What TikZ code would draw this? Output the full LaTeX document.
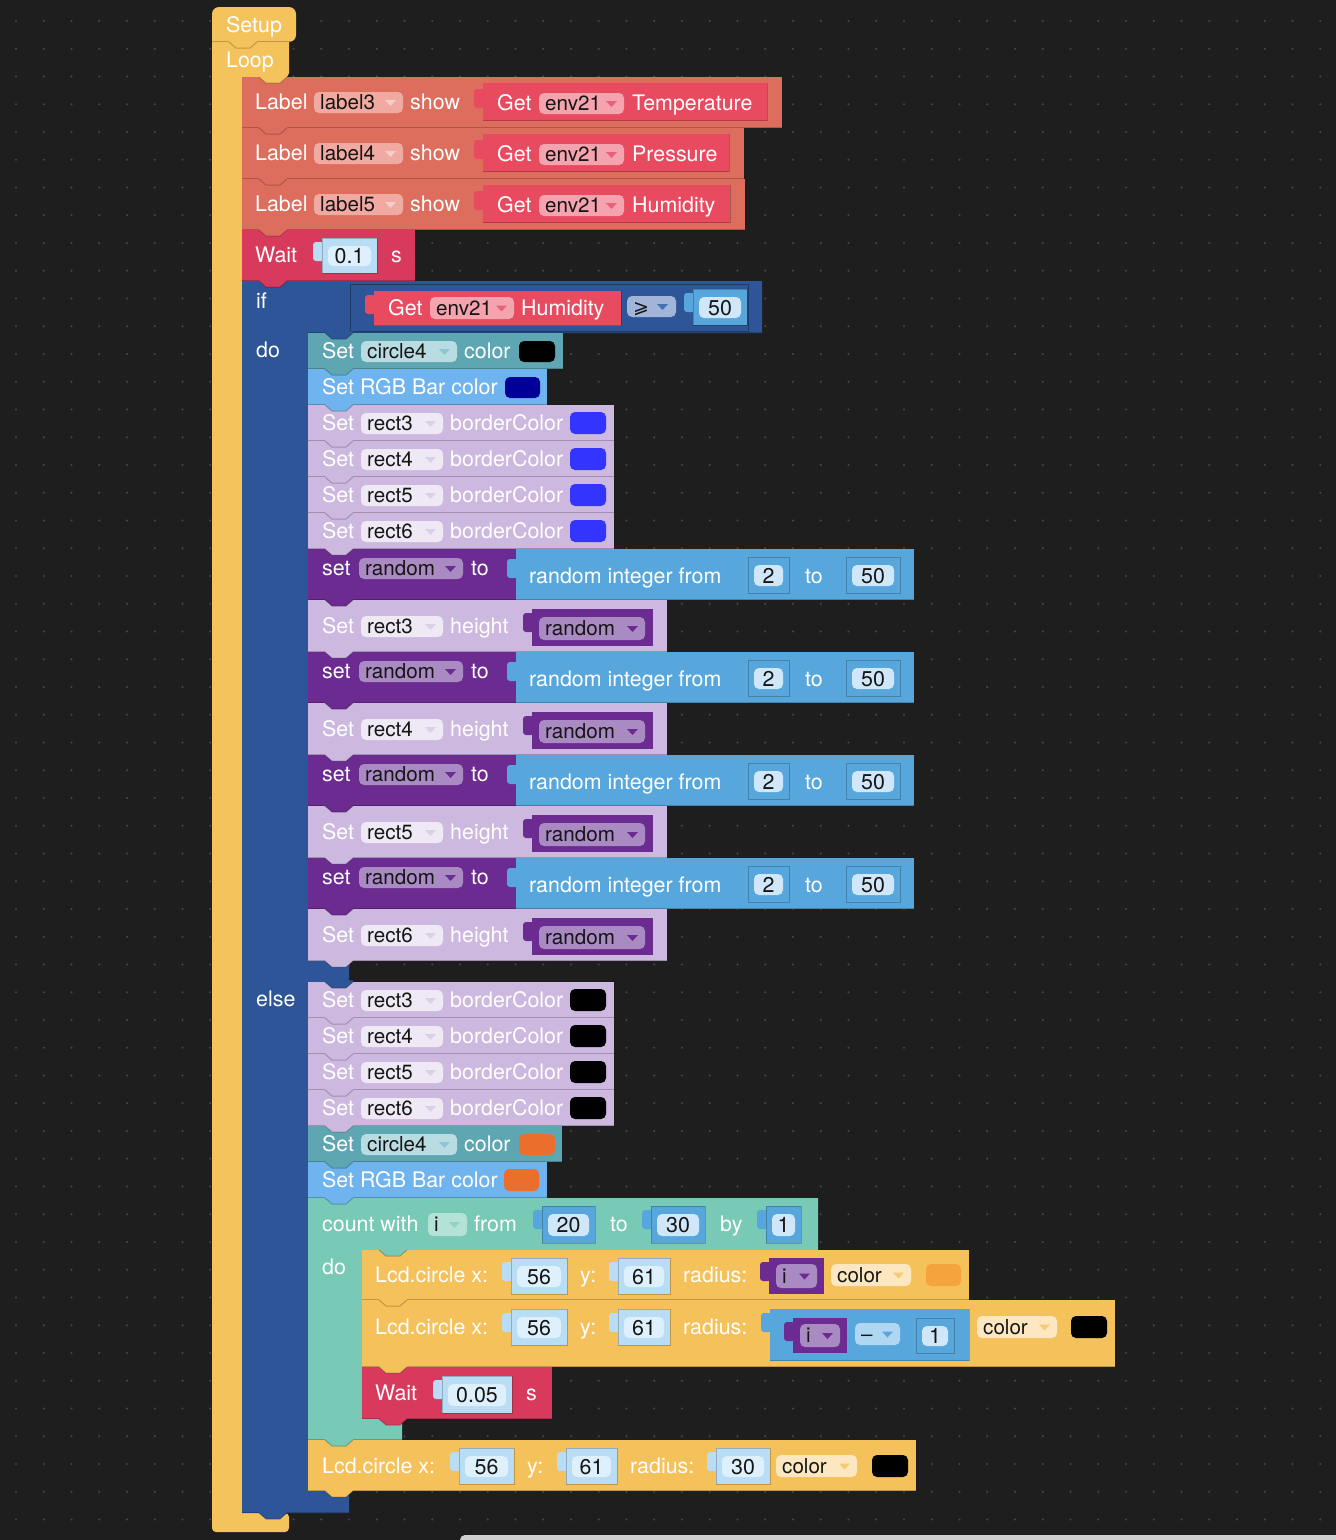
\documentclass[tikz,border=0pt]{standalone}
\usepackage{fontspec}
\setmainfont{TeX Gyre Heros}
\newfontfamily\symfont{DejaVu Sans}

\definecolor{bg}{HTML}{1E1E1E}
\definecolor{dotc}{HTML}{474747}
\definecolor{scrollc}{HTML}{CFCFCF}
\definecolor{loopc}{HTML}{F4C35B}
\definecolor{labelc}{HTML}{DD6E5E}
\definecolor{labelf}{HTML}{F0AAA1}
\definecolor{labela}{HTML}{F6CDC7}
\definecolor{getc}{HTML}{E84A5F}
\definecolor{getf}{HTML}{F5A3AF}
\definecolor{geta}{HTML}{E8607A}
\definecolor{waitc}{HTML}{D83A5D}
\definecolor{ifc}{HTML}{2D5597}
\definecolor{opf}{HTML}{A2B4D8}
\definecolor{opa}{HTML}{4370B8}
\definecolor{circc}{HTML}{5EA7B2}
\definecolor{circf}{HTML}{B9DCE2}
\definecolor{circa}{HTML}{8EC6CF}
\definecolor{rgbc}{HTML}{6FB4EE}
\definecolor{lavc}{HTML}{CDB9DF}
\definecolor{lavf}{HTML}{EFE8F5}
\definecolor{lava}{HTML}{DCD0E6}
\definecolor{purc}{HTML}{6B2B90}
\definecolor{purf}{HTML}{A98AC3}
\definecolor{pura}{HTML}{6B2B90}
\definecolor{mathc}{HTML}{57A7DC}
\definecolor{mathf}{HTML}{AFD7F2}
\definecolor{numo}{HTML}{B9DDF4}
\definecolor{numi}{HTML}{DDF0FB}
\definecolor{numm}{HTML}{CFE7F8}
\definecolor{cntc}{HTML}{79C9B7}
\definecolor{cntf}{HTML}{B4E2D7}
\definecolor{cnta}{HTML}{94D2C4}
\definecolor{lcdc}{HTML}{F5C15A}
\definecolor{colf}{HTML}{FCE7C0}
\definecolor{cola}{HTML}{F6CB78}
\definecolor{swblue}{HTML}{3434FF}
\definecolor{swnavy}{HTML}{000099}
\definecolor{sworange}{HTML}{EC6E2C}
\definecolor{swlight}{HTML}{F5A33C}
\definecolor{fieldtxt}{HTML}{151515}

\tikzset{
  txt/.style={anchor=base west,inner sep=0pt,font=\fontsize{21.4}{25}\selectfont},
  ftxt/.style={anchor=base west,inner sep=0pt,font=\fontsize{20.6}{25}\selectfont,text=fieldtxt},
  ctxt/.style={anchor=base,inner sep=0pt,font=\fontsize{21.4}{25}\selectfont,text=fieldtxt},
  edge/.style={black,opacity=.22,line width=1.5},
}

\newcounter{tn}
% text label, left aligned, vertically centred on #3
\newcommand\lbl[4][white]{\stepcounter{tn}\node[txt,text=#1] (t\arabic{tn}) at ({#2},{#3+7.5}) {#4};}
% dark text inside a dropdown field
\newcommand\flbl[3]{\stepcounter{tn}\node[ftxt] (t\arabic{tn}) at ({#1},{#2+7.3}) {#3};}
% centred dark text
\newcommand\ctr[3]{\stepcounter{tn}\node[ctxt] (t\arabic{tn}) at ({#1},{#2+7.5}) {#3};}
% plain statement block with a shaded lower edge
\newcommand\blk[5]{\fill[#5] ({#1},{#2}) rectangle ({#3},{#4});
  \draw[edge] ({#1},{#4-0.75}) -- ({#3},{#4-0.75});}
% connection tab of the block above, reaching into the block below
\newcommand\notch[3]{\fill[#3] ({#1+17},{#2-1.6}) -- ({#1+17},{#2}) -- ({#1+24},{#2+6}) -- ({#1+38},{#2+6}) -- ({#1+45},{#2}) -- ({#1+45},{#2-1.6}) -- cycle;
  \draw[edge,line width=1] ({#1+17},{#2}) -- ({#1+24},{#2+6}) -- ({#1+38},{#2+6}) -- ({#1+45},{#2});}
% output tab on the left of a value block
\newcommand\otab[3]{\fill[#3,rounded corners=3] ({#1-9},{#2+4}) rectangle ({#1+2},{#2+23});}
% dropdown field with text and a small triangle
\newcommand\fld[7]{\pgfmathsetmacro\fldc{(#2+#4)/2}%
  \fill[#5,rounded corners=5] ({#1},{#2}) rectangle ({#3},{#4});
  \flbl{#1+6}{\fldc}{#6}
  \fill[#7] ({#3-18},{\fldc-2.5}) -- ({#3-7},{\fldc-2.5}) -- ({#3-12.5},{\fldc+3.5}) -- cycle;}
% number input block: outer, inner field, value
\newcommand\numslot[7]{\otab{#1}{#2}{#5}
  \fill[#5] ({#1},{#2}) rectangle ({#3},{#4});
  \draw[black,opacity=.22,line width=1] ({#1},{#2}) rectangle ({#3},{#4});
  \fill[#6,rounded corners=5] ({#1+6},{#2+8}) rectangle ({#3-6},{#4-7});
  \ctr{(#1+#3)/2}{(#2+#4)/2+0.5}{#7}}
% colour swatch
\newcommand\sw[5]{\fill[#5,rounded corners=5] ({#1},{#2}) rectangle ({#3},{#4});}

% Label ... show Get env21 ...
\newcommand\labelrow[5]{%
  \blk{242}{#1}{#2}{#1+51}{labelc}
  \lbl{255}{#1+25}{Label}
  \fld{314}{#1+15}{403}{#1+36}{labelf}{#3}{labela}
  \lbl{410}{#1+25}{show}
  \otab{483}{#1+8}{getc}
  \fill[getc] (483,{#1+6}) rectangle ({#4},{#1+44});
  \draw[edge,line width=1] (483,{#1+43.5}) -- ({#4},{#1+43.5}) -- ({#4},{#1+6});
  \lbl{497}{#1+26}{Get}
  \fld{539}{#1+16}{624}{#1+37}{getf}{env21}{geta}
  \lbl{632}{#1+26}{#5}}

% Set rectN borderColor
\newcommand\lavrow[3]{%
  \blk{308}{#1}{614}{#1+36}{lavc}
  \lbl{322}{#1+18}{Set}
  \fld{361}{#1+8}{443}{#1+29}{lavf}{#2}{lava}
  \lbl{450}{#1+18}{borderColor}
  \sw{570}{#1+7}{606}{#1+29}{#3}}

% set random to random integer; Set rectN height random
\newcommand\pairrow[2]{%
  \blk{308}{#1}{516}{#1+51}{purc}
  \notch{308}{#1}{lavc}
  \lbl{322}{#1+19}{set}
  \fld{359}{#1+9}{463}{#1+30}{purf}{random}{pura}
  \lbl{471}{#1+19}{to}
  \otab{516}{#1+6}{mathc}
  \blk{516}{#1}{914}{#1+51}{mathc}
  \lbl{529}{#1+27}{random integer from}
  \numslot{748}{#1+8}{789}{#1+44}{mathc}{numm}{2}
  \lbl{805}{#1+27}{to}
  \numslot{846}{#1+8}{900}{#1+44}{mathc}{numm}{50}
  \blk{308}{#1+51}{667}{#1+103}{lavc}
  \notch{308}{#1+51}{purc}
  \lbl{322}{#1+77}{Set}
  \fld{361}{#1+67}{443}{#1+88}{lavf}{#2}{lava}
  \lbl{450}{#1+77}{height}
  \otab{532}{#1+60}{purc}
  \fill[purc] (532,{#1+60}) rectangle (653,{#1+97});
  \fld{539}{#1+68}{645}{#1+91}{purf}{random}{pura}}

\begin{document}
\begin{tikzpicture}[x=1pt,y=-1pt]
\useasboundingbox (0,0) rectangle (1336,1540);
\fill[bg] (0,0) rectangle (1336,1540);
% workspace grid
\foreach \i in {0,...,47}
  \foreach \j in {0,...,55}
    \fill[dotc] ({16+27.75*\i},{21+27.75*\j}) circle (1.1);
\fill[scrollc,rounded corners=5] (460,1535) rectangle (1345,1550);

% ---- Setup / Loop ----
\fill[loopc,rounded corners=4] (212,30) -- (289,30) -- (289,77) -- (242,77) -- (242,1513)
  -- (289,1513) -- (289,1532) -- (212,1532) -- cycle;
\fill[loopc,rounded corners=7] (212,50) -- (212,7) -- (296,7) -- (296,42) -- (212,42) -- cycle;
\draw[edge] (212,41.5) -- (296,41.5);
\notch{212}{42}{loopc}
\lbl{226}{25}{Setup}
\lbl{226}{60}{Loop}

% ---- label rows ----
\labelrow{77}{782}{label3}{767}{Temperature}
\notch{242}{77}{loopc}
\labelrow{128}{744}{label4}{729}{Pressure}
\notch{242}{128}{labelc}
\labelrow{179}{745}{label5}{730}{Humidity}
\notch{242}{179}{labelc}

% ---- Wait 0.1 s ----
\blk{242}{230}{415}{281}{waitc}
\notch{242}{230}{labelc}
\lbl{255}{255}{Wait}
\numslot{322}{238}{377}{273}{numo}{numi}{0.1}
\lbl{391}{255}{s}

% ---- if / do / else ----
\fill[ifc] (242,281) -- (762,281) -- (762,333) -- (308,333) -- (308,961) -- (349,961)
  -- (349,982) -- (308,982) -- (308,1491) -- (349,1491) -- (349,1513) -- (242,1513) -- cycle;
\draw[edge] (242,1512.25) -- (349,1512.25);
\draw[edge] (308,332.25) -- (762,332.25);
\notch{242}{281}{waitc}
\notch{242}{1513}{ifc}
\lbl{256}{301}{if}
\lbl{256}{350}{do}
\lbl{256}{999}{else}
% condition
\fill[ifc] (350,284) rectangle (748,331);
\draw[black,opacity=.3,line width=1] (350,284) rectangle (748,331);
\otab{374}{291}{getc}
\fill[getc] (374,291) rectangle (621,326);
\draw[edge,line width=1] (374,325.5) -- (621,325.5) -- (621,291);
\lbl{388}{308}{Get}
\fld{430}{297}{514}{319}{getf}{env21}{geta}
\lbl{521}{308}{Humidity}
\fill[opf,rounded corners=5] (627,296) rectangle (676,317);
\stepcounter{tn}\node[txt,text=fieldtxt,font=\fontsize{19}{23}\symfont] (t\arabic{tn}) at (633,313.5) {⩾};
\fill[opa] (657,304) -- (668,304) -- (662.5,310) -- cycle;
\numslot{693}{289}{747}{325}{mathc}{numm}{50}

% do branch
\blk{308}{333}{563}{369}{circc}
\notch{308}{333}{ifc}
\lbl{322}{351}{Set}
\fld{361}{341}{457}{362}{circf}{circle4}{circa}
\lbl{464}{351}{color}
\sw{519}{341}{555}{362}{black}

\blk{308}{369}{547}{405}{rgbc}
\notch{308}{369}{circc}
\lbl{322}{387}{Set RGB Bar color}
\sw{505}{377}{540}{398}{swnavy}

\lavrow{405}{rect3}{swblue}
\notch{308}{405}{rgbc}
\lavrow{441}{rect4}{swblue}
\notch{308}{441}{lavc}
\lavrow{477}{rect5}{swblue}
\notch{308}{477}{lavc}
\lavrow{513}{rect6}{swblue}
\notch{308}{513}{lavc}

\pairrow{549}{rect3}
\pairrow{652}{rect4}
\pairrow{755}{rect5}
\pairrow{858}{rect6}
\notch{308}{961}{lavc}

% else branch
\lavrow{982}{rect3}{black}
\notch{308}{982}{ifc}
\lavrow{1018}{rect4}{black}
\notch{308}{1018}{lavc}
\lavrow{1054}{rect5}{black}
\notch{308}{1054}{lavc}
\lavrow{1090}{rect6}{black}
\notch{308}{1090}{lavc}

\blk{308}{1126}{562}{1162}{circc}
\notch{308}{1126}{lavc}
\lbl{322}{1144}{Set}
\fld{361}{1134}{457}{1155}{circf}{circle4}{circa}
\lbl{464}{1144}{color}
\sw{519}{1134}{555}{1155}{sworange}

\blk{308}{1162}{547}{1198}{rgbc}
\notch{308}{1162}{circc}
\lbl{322}{1180}{Set RGB Bar color}
\sw{504}{1169}{539}{1191}{sworange}

% ---- count with i ----
\fill[cntc] (308,1198) -- (818,1198) -- (818,1250) -- (362,1250) -- (362,1419) -- (402,1419)
  -- (402,1440) -- (308,1440) -- cycle;
\draw[edge] (308,1439.25) -- (402,1439.25);
\notch{308}{1198}{rgbc}
\lbl{322}{1224}{count with}
\fld{428}{1213}{467}{1236}{cntf}{i}{cnta}
\lbl{474}{1224}{from}
\numslot{542}{1206}{595}{1243}{mathc}{numm}{20}
\lbl{610}{1224}{to}
\numslot{651}{1206}{705}{1243}{mathc}{numm}{30}
\lbl{720}{1224}{by}
\numslot{766}{1206}{801}{1243}{mathc}{numm}{1}
\lbl{322}{1267}{do}

% Lcd.circle with radius i
\blk{362}{1250}{969}{1300}{lcdc}
\notch{362}{1250}{cntc}
\lbl{375}{1275}{Lcd.circle x:}
\numslot{511}{1258}{567}{1294}{numo}{numi}{56}
\lbl{580}{1275}{y:}
\numslot{618}{1258}{670}{1294}{numo}{numi}{61}
\lbl{683}{1275}{radius:}
\otab{769}{1258}{purc}
\fill[purc] (769,1258) rectangle (824,1294);
\fld{776}{1264}{817}{1288}{purf}{i}{pura}
\fld{831}{1264}{911}{1286}{colf}{color}{cola}
\sw{926}{1264}{961}{1286}{swlight}

% Lcd.circle with radius i - 1
\blk{362}{1300}{1115}{1367}{lcdc}
\notch{362}{1300}{lcdc}
\lbl{375}{1327}{Lcd.circle x:}
\numslot{511}{1309}{567}{1345}{numo}{numi}{56}
\lbl{580}{1327}{y:}
\numslot{618}{1309}{670}{1345}{numo}{numi}{61}
\lbl{683}{1327}{radius:}
\otab{770}{1309}{mathc}
\fill[mathc] (770,1309) rectangle (969,1361);
\draw[edge,line width=1] (770,1360.5) -- (969,1360.5) -- (969,1309);
\otab{793}{1318}{purc}
\fill[purc] (793,1318) rectangle (847,1353);
\fld{800}{1324}{840}{1347}{purf}{i}{pura}
\fld{855}{1323}{900}{1345}{mathf}{–}{mathc}
\numslot{916}{1318}{954}{1353}{mathc}{numm}{1}
\fld{977}{1316}{1057}{1338}{colf}{color}{cola}
\sw{1071}{1316}{1107}{1338}{black}

% Wait 0.05 s
\blk{362}{1367}{552}{1419}{waitc}
\notch{362}{1367}{lcdc}
\lbl{375}{1393}{Wait}
\numslot{442}{1376}{512}{1413}{numo}{numi}{0.05}
\lbl{526}{1393}{s}
\notch{362}{1419}{waitc}

% final Lcd.circle radius 30
\blk{308}{1440}{916}{1491}{lcdc}
\notch{308}{1440}{cntc}
\lbl{322}{1466}{Lcd.circle x:}
\numslot{459}{1448}{514}{1484}{numo}{numi}{56}
\lbl{527}{1466}{y:}
\numslot{566}{1448}{617}{1484}{numo}{numi}{61}
\lbl{630}{1466}{radius:}
\numslot{716}{1448}{770}{1484}{numo}{numi}{30}
\fld{776}{1455}{857}{1477}{colf}{color}{cola}
\sw{872}{1455}{908}{1477}{black}
\notch{308}{1491}{lcdc}
\end{tikzpicture}
\end{document}
